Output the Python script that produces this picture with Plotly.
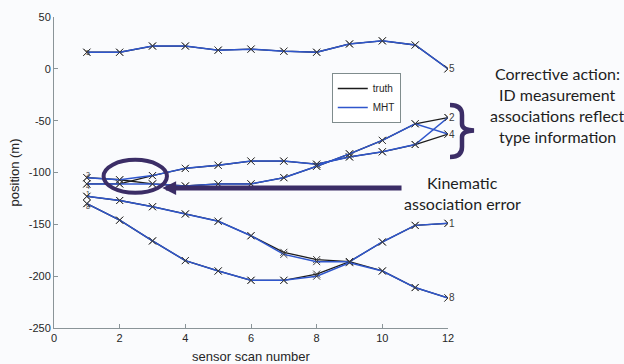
import plotly.graph_objects as go

# ---------------- data ----------------
scan = [1, 2, 3, 4, 5, 6, 7, 8, 9, 10, 11, 12]

truth_5 = [16, 16, 22, 22, 18, 19, 17, 16, 24, 27, 23, 0]
truth_2 = [-105, -107, -111, -113, -111, -111, -105, -94, -82, -69, -53, -47]
truth_4 = [-111, -111, -103, -96, -93, -89, -89, -92, -85, -80, -73, -63]
truth_1 = [-123, -127, -133, -140, -147, -161, -177, -184, -186, -167, -151, -149]
truth_8 = [-130, -146, -166, -185, -195, -204, -204, -198, -186, -195, -211, -221]

mht_5 = [16, 16, 22, 22, 18, 19, 17, 16, 24, 27, 23, 0]
mht_2 = [-105, -107, -103, -96, -93, -89, -89, -92, -85, -80, -73, -47]
mht_4 = [-111, -111, -111, -113, -111, -111, -105, -94, -82, -69, -53, -63]
mht_1 = [-123, -127, -133, -140, -147, -161, -179, -186, -186, -167, -151, -149]
mht_8 = [-130, -146, -166, -185, -195, -204, -204, -200, -187, -195, -211, -221]

track_ids = ["5", "2", "4", "1", "8"]

x_ticks = [0, 2, 4, 6, 8, 10, 12]
y_ticks = [-250, -200, -150, -100, -50, 0, 50]
y_tick_text = ["-250", "-200", "-150", "-100", "-50", "0", "50"]

# ---------------- style ----------------
W, H = 624, 364
ML, MR, MT, MB = 54, 176, 17, 36
BG = "#fafbfd"
BLUE = "#2f56cc"
BLACK = "#1c1c1c"
MARK = "#3a3a3a"
PURPLE = "#3b2d66"
TXT = "#262626"
FONT = "Liberation Sans, Arial, sans-serif"
CALLOUT = "Lato, Open Sans, sans-serif"

fig = go.Figure()

truths = [truth_5, truth_2, truth_4, truth_1, truth_8]
mhts = [mht_5, mht_2, mht_4, mht_1, mht_8]

for ys in truths:
    fig.add_trace(go.Scatter(x=scan, y=ys, mode="lines+markers",
                             line=dict(color=BLACK, width=1.3),
                             marker=dict(symbol="x-thin", size=7,
                                         line=dict(color=MARK, width=1)),
                             showlegend=False, hoverinfo="skip"))
for ys in mhts:
    fig.add_trace(go.Scatter(x=scan, y=ys, mode="lines+markers",
                             line=dict(color=BLUE, width=1.5),
                             marker=dict(symbol="x-thin", size=7,
                                         line=dict(color=MARK, width=1)),
                             showlegend=False, hoverinfo="skip"))

# legend-only entries
fig.add_trace(go.Scatter(x=[None], y=[None], mode="lines", name="truth",
                         line=dict(color=BLACK, width=1.3)))
fig.add_trace(go.Scatter(x=[None], y=[None], mode="lines", name="MHT",
                         line=dict(color=BLUE, width=1.5)))

annotations = []
# track ID labels at the start and end of each track
start_shift = {"5": 0, "2": 3, "4": -3, "1": 3, "8": -3}
for tid, ys in zip(track_ids, truths):
    annotations.append(dict(x=scan[-1], y=ys[-1], xref="x", yref="y", text=tid,
                            showarrow=False, xshift=4,
                            font=dict(family=FONT, size=10, color=MARK)))
    annotations.append(dict(x=scan[0], y=ys[0], xref="x", yref="y", text=tid,
                            showarrow=False, xshift=1, yshift=start_shift[tid],
                            font=dict(family=FONT, size=7, color=MARK)))

# arrow to the association error
annotations.append(dict(x=3.3, y=-115, xref="x", yref="y",
                        ax=10.63, ay=-115, axref="x", ayref="y",
                        showarrow=True, arrowhead=2, arrowsize=0.55,
                        arrowwidth=5, arrowcolor=PURPLE, text=""))

def px_to_paper(px, py):
    return (px - ML) / (W - ML - MR), 1 - (py - MT) / (H - MT - MB)

# callout texts
cx, _ = px_to_paper(557, 0)
for line, py in [("Corrective action:", 74), ("ID measurement", 95),
                 ("associations reflect", 116), ("type information", 136)]:
    _, cy = px_to_paper(0, py)
    annotations.append(dict(x=cx, y=cy, xref="paper", yref="paper", text=line,
                            showarrow=False, xanchor="center", yanchor="middle",
                            font=dict(family=CALLOUT, size=16, color="#1e1e1e")))
kx, _ = px_to_paper(462, 0)
for line, py in [("Kinematic", 182), ("association error", 203)]:
    _, ky = px_to_paper(0, py)
    annotations.append(dict(x=kx, y=ky, xref="paper", yref="paper", text=line,
                            showarrow=False, xanchor="center", yanchor="middle",
                            font=dict(family=CALLOUT, size=16, color="#1e1e1e")))

# brace path
brace_px = [("M", 450, 105), ("Q", 462, 105, 462, 115), ("L", 462, 124),
            ("Q", 462, 130, 474, 130.5), ("Q", 462, 131, 462, 137),
            ("L", 462, 147), ("Q", 462, 157, 450, 157)]
parts = []
for seg in brace_px:
    cmd = seg[0]
    pts = seg[1:]
    coords = []
    for i in range(0, len(pts), 2):
        qx, qy = px_to_paper(pts[i], pts[i + 1])
        coords.append(f"{qx:.5f},{qy:.5f}")
    parts.append(cmd + " " + " ".join(coords))
brace_path = " ".join(parts)

shapes = [
    dict(type="circle", xref="x", yref="y", x0=1.51, x1=3.44, y0=-119.6, y1=-87.8,
         line=dict(color=PURPLE, width=4)),
    dict(type="path", xref="paper", yref="paper", path=brace_path,
         line=dict(color=PURPLE, width=4.5)),
]

axis_common = dict(showgrid=False, zeroline=False, showline=True,
                   linecolor="#8a9498", linewidth=1, ticks="inside",
                   ticklen=4, tickcolor="#8a9498", automargin=False,
                   tickfont=dict(family=FONT, size=11, color=TXT))

fig.update_layout(
    width=W, height=H,
    margin=dict(l=ML, r=MR, t=MT, b=MB),
    paper_bgcolor=BG, plot_bgcolor=BG,
    xaxis=dict(range=[0, 12], tickvals=x_ticks, **axis_common,
               title=dict(text="sensor scan number", standoff=13,
                          font=dict(family=FONT, size=13, color=TXT))),
    yaxis=dict(range=[-250, 50], tickvals=y_ticks, ticktext=y_tick_text,
               **axis_common,
               title=dict(text="position (m)", standoff=6,
                          font=dict(family=FONT, size=13, color=TXT))),
    legend=dict(x=0.705, y=0.82, xanchor="left", yanchor="top",
                bgcolor="white", bordercolor="#7f8c8d", borderwidth=1,
                font=dict(family=FONT, size=10, color=TXT),
                itemwidth=30, tracegroupgap=0),
    annotations=annotations,
    shapes=shapes,
    showlegend=True,
)

fig.write_html("out.html")
